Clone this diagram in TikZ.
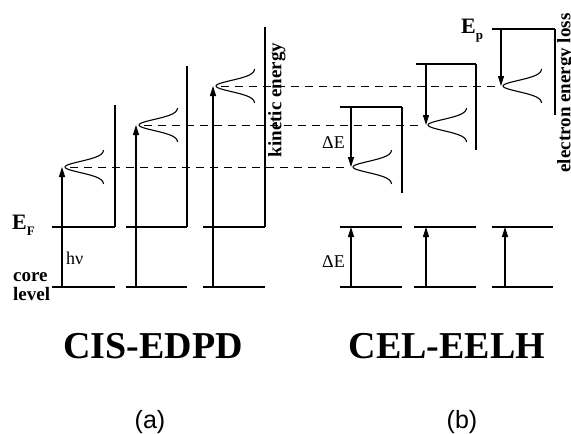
\documentclass[tikz,border=0pt]{standalone}
\usepackage{fontspec}
\setmainfont{Liberation Serif}
\newfontfamily\panelfont{Liberation Sans}
\usetikzlibrary{arrows.meta}
\tikzset{
    level/.style={line width=2.4pt},
    beam/.style={line width=2pt},
    wall/.style={line width=1.2pt},
    excite/.style={line width=1.1pt, -{Triangle[length=10pt,width=6pt]}},
    guide/.style={line width=1pt, dash pattern=on 8pt off 6pt},
    peak/.style={line width=1.1pt},
    boldlabel/.style={font=\bfseries\fontsize{19}{19}\selectfont, inner sep=0pt},
    plainlabel/.style={font=\fontsize{18}{18}\selectfont, inner sep=0pt},
    title/.style={font=\bfseries\fontsize{38}{38}\selectfont, inner sep=0pt}
}
% sideways line shape, tip at (#1,#2)
\newcommand{\lineshape}[2]{%
    \draw[peak] plot[domain=-17:17, samples=41, smooth]
        ({#1+39*(1-exp(-(\x/5.6)^2/2))}, {#2+\x});
}

\begin{document}
\begin{tikzpicture}[x=1pt, y=-1pt]
    \useasboundingbox (0,0) rectangle (571,434);

    % (a) core level photoemission
    \foreach \xl/\xr/\yt/\ax/\tip [count=\i] in {52/115/105/62/167, 126/187/66/136/125, 203/265/27/213/86}{
        \draw[level] (\xl,227) -- (\xr,227);
        \draw[level] (\xl,287) -- (\xr,287);
        \draw[wall] (\xr,227) -- (\xr,\yt);
        \draw[excite] (\ax,287) -- (\ax,\tip);
        \lineshape{\ax+3}{\tip}
        \coordinate (pa\i) at (\ax+8,\tip);
    }

    % (b) energy loss
    \foreach \xl/\xr/\ax in {340/402/351, 414/476/426, 492/553/505}{
        \draw[level] (\xl,227) -- (\xr,227);
        \draw[level] (\xl,287) -- (\xr,287);
        \draw[excite] (\ax,287) -- (\ax,227);
    }
    \foreach \xl/\xr/\yt/\yb/\ax/\tip [count=\i] in {340/402/107/193/351/167, 416/476/64/150/426/125, 492/555/29/115/501/86}{
        \draw[beam] (\xl,\yt) -- (\xr,\yt);
        \draw[wall] (\xr,\yt) -- (\xr,\yb);
        \draw[excite] (\ax,\yt) -- (\ax,\tip);
        \lineshape{\ax+2}{\tip}
        \coordinate (pb\i) at (\ax-4,\tip);
    }

    \foreach \i in {1,2,3}
        \draw[guide] (pa\i) -- (pb\i);

    % labels
    \node[boldlabel, font=\bfseries\fontsize{22}{22}\selectfont, anchor=base west] (ef) at (12,229)
        {E\raisebox{-0.28em}{\fontsize{13}{13}\selectfont F}};
    \node[boldlabel, anchor=base west] (core) at (13,281) {core};
    \node[boldlabel, anchor=base west] (lvl) at (13,300) {level};
    \node[plainlabel, anchor=base west] (hnu) at (66,264) {hν};
    \node[boldlabel, rotate=90, anchor=north] (kin) at (268,100) {kinetic energy};

    \node[plainlabel, anchor=base west] (de1) at (322,148) {ΔE};
    \node[plainlabel, anchor=base west] (de2) at (322,267) {ΔE};
    \node[boldlabel, font=\bfseries\fontsize{22}{22}\selectfont, anchor=base west] (ep) at (461,33)
        {E\raisebox{-0.3em}{\fontsize{13}{13}\selectfont p}};
    \node[boldlabel, rotate=90, anchor=north] (eel) at (557,93) {electron energy loss};

    \node[title, anchor=base] (cis) at (153,358) {CIS-EDPD};
    \node[title, anchor=base] (cel) at (447,358) {CEL-EELH};
    \node[font=\panelfont\fontsize{25}{25}\selectfont, inner sep=0pt, anchor=base] (pa) at (150,428) {(a)};
    \node[font=\panelfont\fontsize{25}{25}\selectfont, inner sep=0pt, anchor=base] (pb) at (462,428) {(b)};
\end{tikzpicture}
\end{document}
